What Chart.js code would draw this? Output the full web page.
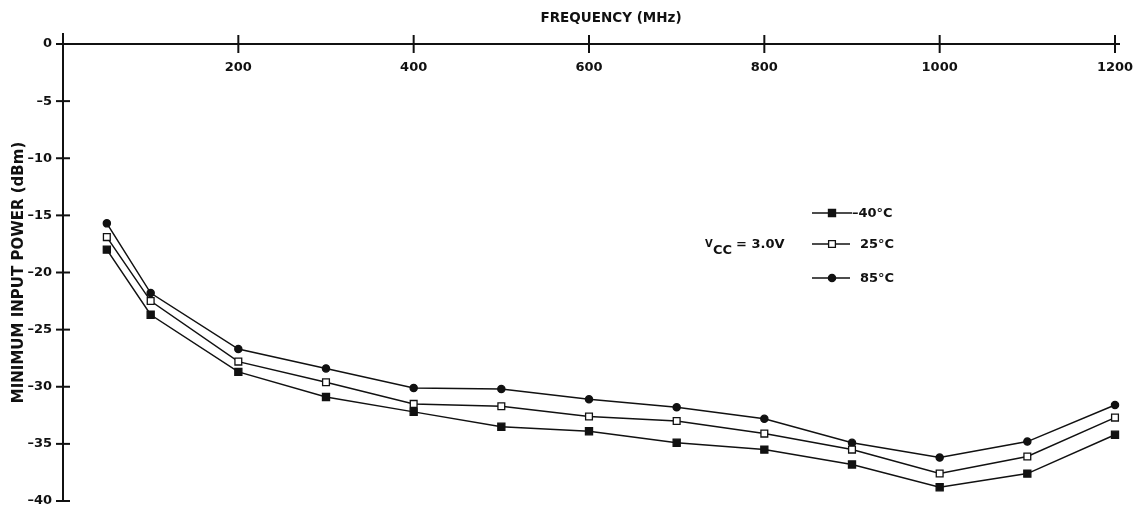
<!DOCTYPE html>
<html>
<head>
<meta charset="utf-8">
<script src="https://cdn.jsdelivr.net/npm/chart.js@4.4.1/dist/chart.umd.min.js"></script>
<style>
  html, body { margin: 0; padding: 0; background: #ffffff; }
  canvas { display: block; }
</style>
</head>
<body>
<canvas id="chart" width="1136" height="512"></canvas>
<script>
// Minimum input power versus frequency at three temperatures (VCC = 3.0 V)
const frequencies = [50, 100, 200, 300, 400, 500, 600, 700, 800, 900, 1000, 1100, 1200];
const powerMinus40C = [-18.0, -23.7, -28.7, -30.9, -32.2, -33.5, -33.9, -34.9, -35.5, -36.8, -38.8, -37.6, -34.2];
const power25C      = [-16.9, -22.5, -27.8, -29.6, -31.5, -31.7, -32.6, -33.0, -34.1, -35.5, -37.6, -36.1, -32.7];
const power85C      = [-15.7, -21.8, -26.7, -28.4, -30.1, -30.2, -31.1, -31.8, -32.8, -34.9, -36.2, -34.8, -31.6];
const seriesLabels = ['\u201340\u00B0C', '25\u00B0C', '85\u00B0C'];
const xAxisTitle = 'FREQUENCY (MHz)';
const yAxisTitle = 'MINIMUM INPUT POWER (dBm)';

const FONT = "'DejaVu Sans', 'Liberation Sans', Arial, sans-serif";
const INK = '#111111';

function toPoints(values) {
  return frequencies.map((f, i) => ({ x: f, y: values[i] }));
}

function seriesStyle(pointStyle, filled, radius) {
  return {
    borderColor: INK,
    borderWidth: 1.5,
    backgroundColor: filled ? INK : '#ffffff',
    pointStyle: pointStyle,
    pointRadius: radius,
    pointBorderWidth: 1.3,
    pointBorderColor: INK,
    pointBackgroundColor: filled ? INK : '#ffffff',
    tension: 0,
    clip: false
  };
}

const datasets = [
  Object.assign({ label: seriesLabels[0], data: toPoints(powerMinus40C) }, seriesStyle('rect', true, 5)),
  Object.assign({ label: seriesLabels[1], data: toPoints(power25C) }, seriesStyle('rect', false, 4.8)),
  Object.assign({ label: seriesLabels[2], data: toPoints(power85C) }, seriesStyle('circle', true, 3.6))
];

// Axis lines with tick marks that cross the axis, the top title,
// the legend block and the supply-voltage note.
const annotations = {
  id: 'annotations',
  afterDatasetsDraw(chart) {
    const ctx = chart.ctx;
    const xs = chart.scales.x;
    const ys = chart.scales.y;
    const area = chart.chartArea;
    const x0 = xs.getPixelForValue(0);
    const y0 = ys.getPixelForValue(0);

    ctx.save();
    ctx.strokeStyle = INK;
    ctx.lineWidth = 2;
    ctx.lineCap = 'butt';

    // frequency axis along the top
    ctx.beginPath();
    ctx.moveTo(x0 - 6, y0);
    ctx.lineTo(area.right + 5, y0);
    ctx.stroke();
    // power axis on the left
    ctx.beginPath();
    ctx.moveTo(x0, y0 - 11);
    ctx.lineTo(x0, ys.getPixelForValue(-40));
    ctx.stroke();

    xs.ticks.forEach(t => {
      if (t.value === 0) return;
      const px = xs.getPixelForValue(t.value);
      ctx.beginPath();
      ctx.moveTo(px, y0 - 9);
      ctx.lineTo(px, y0 + 9);
      ctx.stroke();
    });
    ys.ticks.forEach(t => {
      const py = ys.getPixelForValue(t.value);
      ctx.beginPath();
      ctx.moveTo(x0 - 7, py);
      ctx.lineTo(x0 + 7, py);
      ctx.stroke();
    });

    // axis title above the frequency axis
    ctx.fillStyle = INK;
    ctx.font = 'bold 13.5px ' + FONT;
    ctx.textAlign = 'center';
    ctx.textBaseline = 'middle';
    ctx.fillText(xAxisTitle, 611, 18);

    // legend
    const rows = [213, 244, 278];
    const textX = [852, 860, 860];
    ctx.font = 'bold 13px ' + FONT;
    ctx.textAlign = 'left';
    chart.data.datasets.forEach((ds, i) => {
      const ly = rows[i];
      ctx.strokeStyle = INK;
      ctx.lineWidth = 1.3;
      ctx.beginPath();
      ctx.moveTo(812, ly);
      ctx.lineTo(i === 0 ? 852 : 850, ly);
      ctx.stroke();
      ctx.fillStyle = ds.pointBackgroundColor;
      ctx.strokeStyle = ds.pointBorderColor;
      ctx.lineWidth = ds.pointBorderWidth;
      Chart.helpers.drawPoint(ctx, {
        pointStyle: ds.pointStyle,
        radius: ds.pointRadius,
        rotation: 0,
        borderWidth: ds.pointBorderWidth
      }, 832, ly);
      ctx.fillStyle = INK;
      ctx.fillText(ds.label, textX[i], ly + 1);
    });

    // supply voltage note
    ctx.textBaseline = 'alphabetic';
    ctx.font = 'bold 10px ' + FONT;
    ctx.fillText('V', 705, 247);
    ctx.font = 'bold 13px ' + FONT;
    ctx.fillText('CC', 713, 254);
    ctx.fillText('= 3.0V', 736, 248);
    ctx.restore();
  }
};

new Chart(document.getElementById('chart'), {
  type: 'line',
  data: { datasets: datasets },
  options: {
    responsive: false,
    animation: false,
    devicePixelRatio: 1,
    layout: { padding: { left: 0, top: 0, right: 21, bottom: 11 } },
    plugins: {
      legend: { display: false },
      tooltip: { enabled: false }
    },
    scales: {
      x: {
        type: 'linear',
        position: 'top',
        min: 0,
        max: 1200,
        grid: { display: false, drawTicks: false },
        border: { display: false },
        ticks: {
          stepSize: 200,
          autoSkip: false,
          maxRotation: 0,
          mirror: true,
          padding: 16,
          color: INK,
          font: { family: FONT, size: 13, weight: 'bold' },
          callback: v => (v === 0 ? '' : String(v))
        },
        afterFit: s => {
          s.height = 44;
          s.paddingLeft = 0;
          s.paddingRight = 0;
        }
      },
      y: {
        type: 'linear',
        min: -40,
        max: 0,
        grid: { display: false, drawTicks: false },
        border: { display: false },
        ticks: {
          stepSize: 5,
          autoSkip: false,
          padding: 11,
          color: INK,
          font: { family: FONT, size: 13, weight: 'bold' },
          callback: v => (v === 0 ? '0' : '\u2013' + Math.abs(v))
        },
        title: {
          display: true,
          text: yAxisTitle,
          color: INK,
          padding: { top: 10, bottom: 0 },
          font: { family: FONT, size: 15, weight: 'bold' }
        },
        afterFit: s => {
          s.width = 63;
          s.paddingTop = 0;
          s.paddingBottom = 0;
        }
      }
    }
  },
  plugins: [annotations]
});
</script>
</body>
</html>
